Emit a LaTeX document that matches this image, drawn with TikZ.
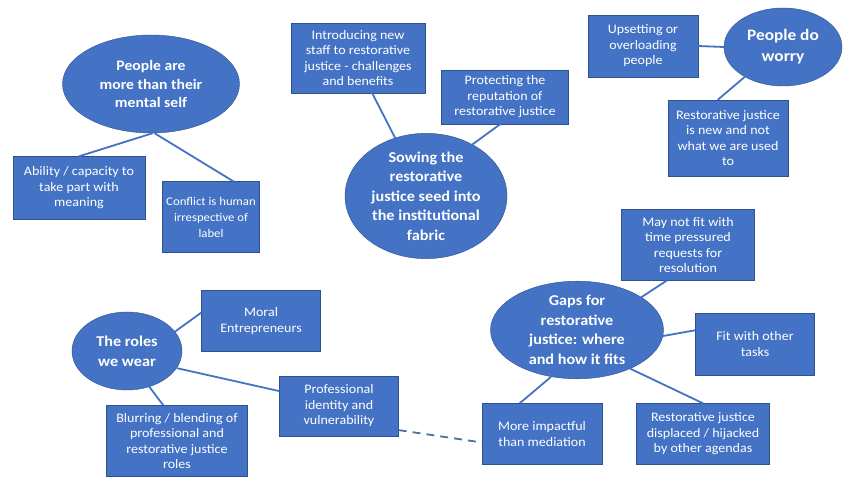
\documentclass[tikz,border=0pt]{standalone}
\usepackage{fontspec}
\setmainfont{Carlito}[FakeStretch=1.08]
\usetikzlibrary{shapes.geometric}
\definecolor{boxblue}{HTML}{4472C4}
\definecolor{boxedge}{HTML}{2F528F}
\definecolor{dashblue}{HTML}{50709F}

\begin{document}
\begin{tikzpicture}[x=1pt,y=-1pt,
   theme/.style={ellipse,draw=boxedge,fill=boxblue,text=white,thin,inner sep=0pt,
   align=center,font=\bfseries\fontsize{15}{19.5}\selectfont},
   sub/.style={rectangle,draw=boxedge,fill=boxblue,text=white,thin,inner sep=0pt,
   align=center,font=\fontsize{13}{15.5}\selectfont},
   link/.style={boxblue,line width=1.8pt}]

 \path[use as bounding box,fill=white] (0,0) rectangle (844,478);

 %people are more than their mental self
 \node[theme,minimum width=177pt,minimum height=98pt,font=\bfseries\fontsize{14.5}{18.8}\selectfont] (el_people) at (151,84) {People are\\more than their\\mental self};
 \node[sub,minimum width=132pt,minimum height=63pt] (bx_ability) at (79,188) {Ability / capacity to\\take part with\\meaning};
 \node[sub,minimum width=97pt,minimum height=71pt,font=\fontsize{11.8}{16}\selectfont] (bx_conflict) at (211,217) {Conflict is human\\irrespective of\\label};

 %sowing the seed
 \node[theme,minimum width=162pt,minimum height=107pt] (el_sowing) at (426,196) {Sowing the\\restorative\\justice seed into\\the institutional\\fabric};
 \node[sub,minimum width=134pt,minimum height=70pt] (bx_intro) at (358,58) {Introducing new\\staff to restorative\\justice - challenges\\and benefits};
 \node[sub,minimum width=127pt,minimum height=54pt] (bx_protect) at (505,97) {Protecting the\\reputation of\\restorative justice};

 %people do worry
 \node[theme,minimum width=118pt,minimum height=78pt,font=\bfseries\fontsize{16}{21}\selectfont] (el_worry) at (783,47) {People do\\worry};
 \node[sub,minimum width=110pt,minimum height=62pt] (bx_upset) at (643,46) {Upsetting or\\overloading\\people};
 \node[sub,minimum width=120pt,minimum height=76pt] (bx_new) at (728,138) {Restorative justice\\is new and not\\what we are used\\to};

 %the roles we wear
 \node[theme,minimum width=110pt,minimum height=78pt,font=\bfseries\fontsize{15}{20}\selectfont] (el_roles) at (127,351) {The roles\\we wear};
 \node[sub,minimum width=119pt,minimum height=61pt] (bx_moral) at (261,321) {Moral\\Entrepreneurs};
 \node[sub,minimum width=119pt,minimum height=60pt] (bx_prof) at (339,406) {Professional\\identity and\\vulnerability};
 \node[sub,minimum width=141pt,minimum height=71pt] (bx_blur) at (177,441) {Blurring / blending of\\professional and\\restorative justice\\roles};

 %gaps for restorative justice
 \node[theme,minimum width=173pt,minimum height=90pt] (el_gaps) at (577,330) {Gaps for\\restorative\\justice: where\\and how it fits};
 \node[sub,minimum width=133pt,minimum height=71pt] (bx_time) at (688,245) {May not fit with\\time pressured\\requests for\\resolution};
 \node[sub,minimum width=119pt,minimum height=62pt] (bx_fit) at (755,344) {Fit with other\\tasks};
 \node[sub,minimum width=120pt,minimum height=61pt] (bx_impact) at (542,434) {More impactful\\than mediation};
 \node[sub,minimum width=133pt,minimum height=61pt] (bx_displace) at (703,434) {Restorative justice\\displaced / hijacked\\by other agendas};

 %connectors
 \draw[link] (el_people.-88) -- (bx_ability.north);
 \draw[link] (el_people.-86) -- (bx_conflict.58);
 \draw[link] (el_sowing.118) -- (bx_intro.-68);
 \draw[link] (el_sowing.48) -- (bx_protect.-100);
 \draw[link] (el_worry.west) -- (bx_upset.east);
 \draw[link] (el_worry.-142) -- (bx_new.105);
 \draw[link] (el_roles.22) -- (bx_moral.172);
 \draw[link] (el_roles.-19) -- (bx_prof.166);
 \draw[link] (el_roles.-58) -- (bx_blur.111);
 \draw[link] (el_gaps.27) -- (bx_time.-121);
 \draw[link] (el_gaps.-4) -- (bx_fit.167);
 \draw[link] (el_gaps.-119) -- (bx_impact.126);
 \draw[link] (el_gaps.-36) -- (bx_displace.north);

 %dashed link between the two groups
 \draw[dashblue,line width=1.8pt,dash pattern=on 8pt off 6pt] (bx_prof.-22) -- (bx_impact.-172);

\end{tikzpicture}
\end{document}
